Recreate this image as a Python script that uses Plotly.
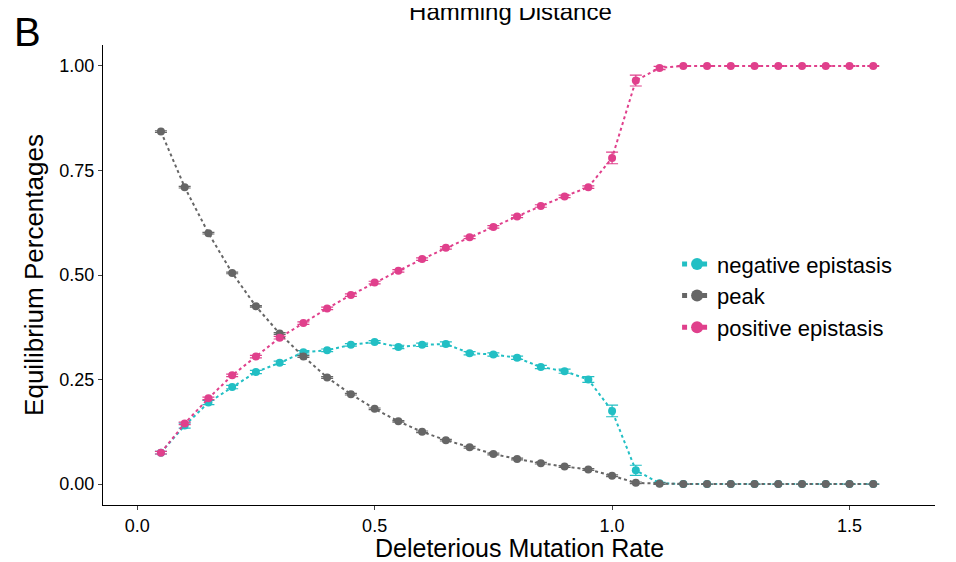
import plotly.graph_objects as go

rate = [round(0.05 * i, 2) for i in range(1, 32)]

neg = [0.075, 0.14, 0.195, 0.232, 0.268, 0.29, 0.315, 0.32, 0.333, 0.34, 0.328, 0.333, 0.335,
       0.313, 0.31, 0.302, 0.28, 0.27, 0.25, 0.175, 0.033, 0.002] + [0.0] * 9
neg_err = [0.003, 0.006, 0.005, 0.004, 0.004, 0.004, 0.004, 0.003, 0.003, 0.003, 0.004, 0.004, 0.005,
           0.004, 0.004, 0.004, 0.004, 0.005, 0.007, 0.014, 0.012, 0.002] + [0.0] * 9
peak = [0.843, 0.71, 0.60, 0.505, 0.425, 0.36, 0.305, 0.255, 0.215, 0.18, 0.15, 0.125, 0.105,
        0.088, 0.072, 0.06, 0.05, 0.042, 0.035, 0.02, 0.003, 0.001] + [0.0] * 9
peak_err = [0.002] * 22 + [0.0] * 9
pos = [0.075, 0.145, 0.205, 0.26, 0.305, 0.35, 0.385, 0.42, 0.452, 0.482, 0.51, 0.538, 0.565,
       0.59, 0.615, 0.64, 0.665, 0.688, 0.71, 0.78, 0.965, 0.995] + [1.0] * 9
pos_err = [0.003] * 19 + [0.014, 0.013, 0.004] + [0.001] * 9

series = [("negative epistasis", neg, neg_err, "#22bfc4"),
          ("peak", peak, peak_err, "#666666"),
          ("positive epistasis", pos, pos_err, "#e0408c")]

fig = go.Figure()
for name, y, err, col in series:
    fig.add_trace(go.Scatter(
        x=rate, y=y, name=name, mode="lines+markers",
        line=dict(color=col, dash="dot", width=2),
        marker=dict(color=col, size=8),
        error_y=dict(type="data", array=err, color=col, width=6, thickness=1.2),
    ))

# the page puts the figure 8px in from the top-left corner
font = "Liberation Sans, Arial, sans-serif"
fig.update_layout(
    width=948, height=554, plot_bgcolor="white", paper_bgcolor="white",
    margin=dict(l=95, r=21, t=37, b=57, autoexpand=False),
    font=dict(family=font, size=18, color="black"),
    title=dict(text="Hamming Distance", x=0.53, xanchor="center", y=0.978, yanchor="bottom",
               font=dict(size=24)),
    xaxis=dict(range=[-0.072, 1.68], tickvals=[0, 0.5, 1.0, 1.5], ticktext=["0.0", "0.5", "1.0", "1.5"],
               showline=True, linecolor="black", ticks="outside", ticklen=4, showgrid=False,
               zeroline=False, automargin=False),
    yaxis=dict(title=dict(text="Equilibrium Percentages", font=dict(size=26), standoff=8),
               range=[-0.05, 1.05], tickvals=[0, 0.25, 0.5, 0.75, 1.0],
               ticktext=["0.00", "0.25", "0.50", "0.75", "1.00"],
               showline=True, linecolor="black", ticks="outside", ticklen=4, showgrid=False,
               zeroline=False, automargin=False),
    legend=dict(x=0.69, y=0.455, xanchor="left", yanchor="middle", font=dict(size=22),
                bgcolor="rgba(0,0,0,0)", tracegroupgap=0, itemsizing="constant", itemwidth=30),
    annotations=[
        dict(text="B", xref="paper", yref="paper", x=-0.109, y=1.028, showarrow=False,
             xanchor="left", yanchor="middle", font=dict(size=40)),
        dict(text="Deleterious Mutation Rate", xref="paper", yref="paper", x=0.5, y=-0.093,
             showarrow=False, xanchor="center", yanchor="middle", font=dict(size=25)),
    ],
)
fig.write_html("out.html")
